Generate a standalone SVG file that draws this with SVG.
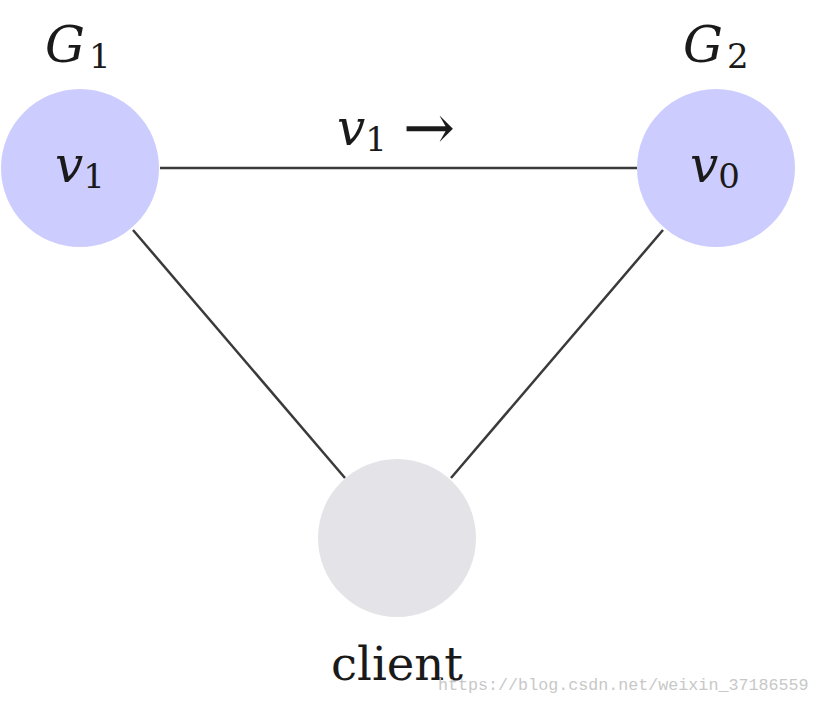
<svg xmlns="http://www.w3.org/2000/svg" width="819" height="704" viewBox="0 0 819 704">
<style>
text{font-family:'DejaVu Serif',serif;fill:#1a1a1a}
.m{font-style:italic;font-size:50px}
.s{font-style:normal;font-size:34px}
.r{font-size:46.5px}
.arr{font-size:62px;font-style:normal}
.server{fill:#ccccff}
.client{fill:#e4e3e8}
.edge{stroke:#3a3a3a;stroke-width:2.5;fill:none}
.wm{font-family:'Liberation Mono',monospace;font-size:16.7px;fill:#c8c8c8}
</style>
<rect width="819" height="704" fill="#ffffff"/>
<g id="connectors">
<line class="edge" x1="160" y1="168" x2="637" y2="168"/>
<line class="edge" x1="133" y1="230" x2="345" y2="478"/>
<line class="edge" x1="663" y1="230" x2="451" y2="478"/>
<text class="m" x="337" y="145">v<tspan class="s" dy="6">1</tspan><tspan class="arr" dy="-2.5" dx="16">→</tspan></text>
</g>
<g id="v1">
<circle class="server" cx="80" cy="168" r="79"/>
<text class="m" x="55" y="182">v<tspan class="s" dy="6">1</tspan></text>
<text class="m" x="45" y="62">G<tspan class="s" dy="6" dx="4">1</tspan></text>
</g>
<g id="v0">
<circle class="server" cx="716" cy="168" r="79"/>
<text class="m" x="690" y="182">v<tspan class="s" dy="6">0</tspan></text>
<text class="m" x="683" y="62">G<tspan class="s" dy="6" dx="4">2</tspan></text>
</g>
<g id="client">
<circle class="client" cx="397" cy="538" r="79"/>
<text class="r" x="397" y="680" text-anchor="middle">client</text>
</g>
<text class="wm" x="438" y="690">https://blog.csdn.net/weixin_37186559</text>
</svg>
